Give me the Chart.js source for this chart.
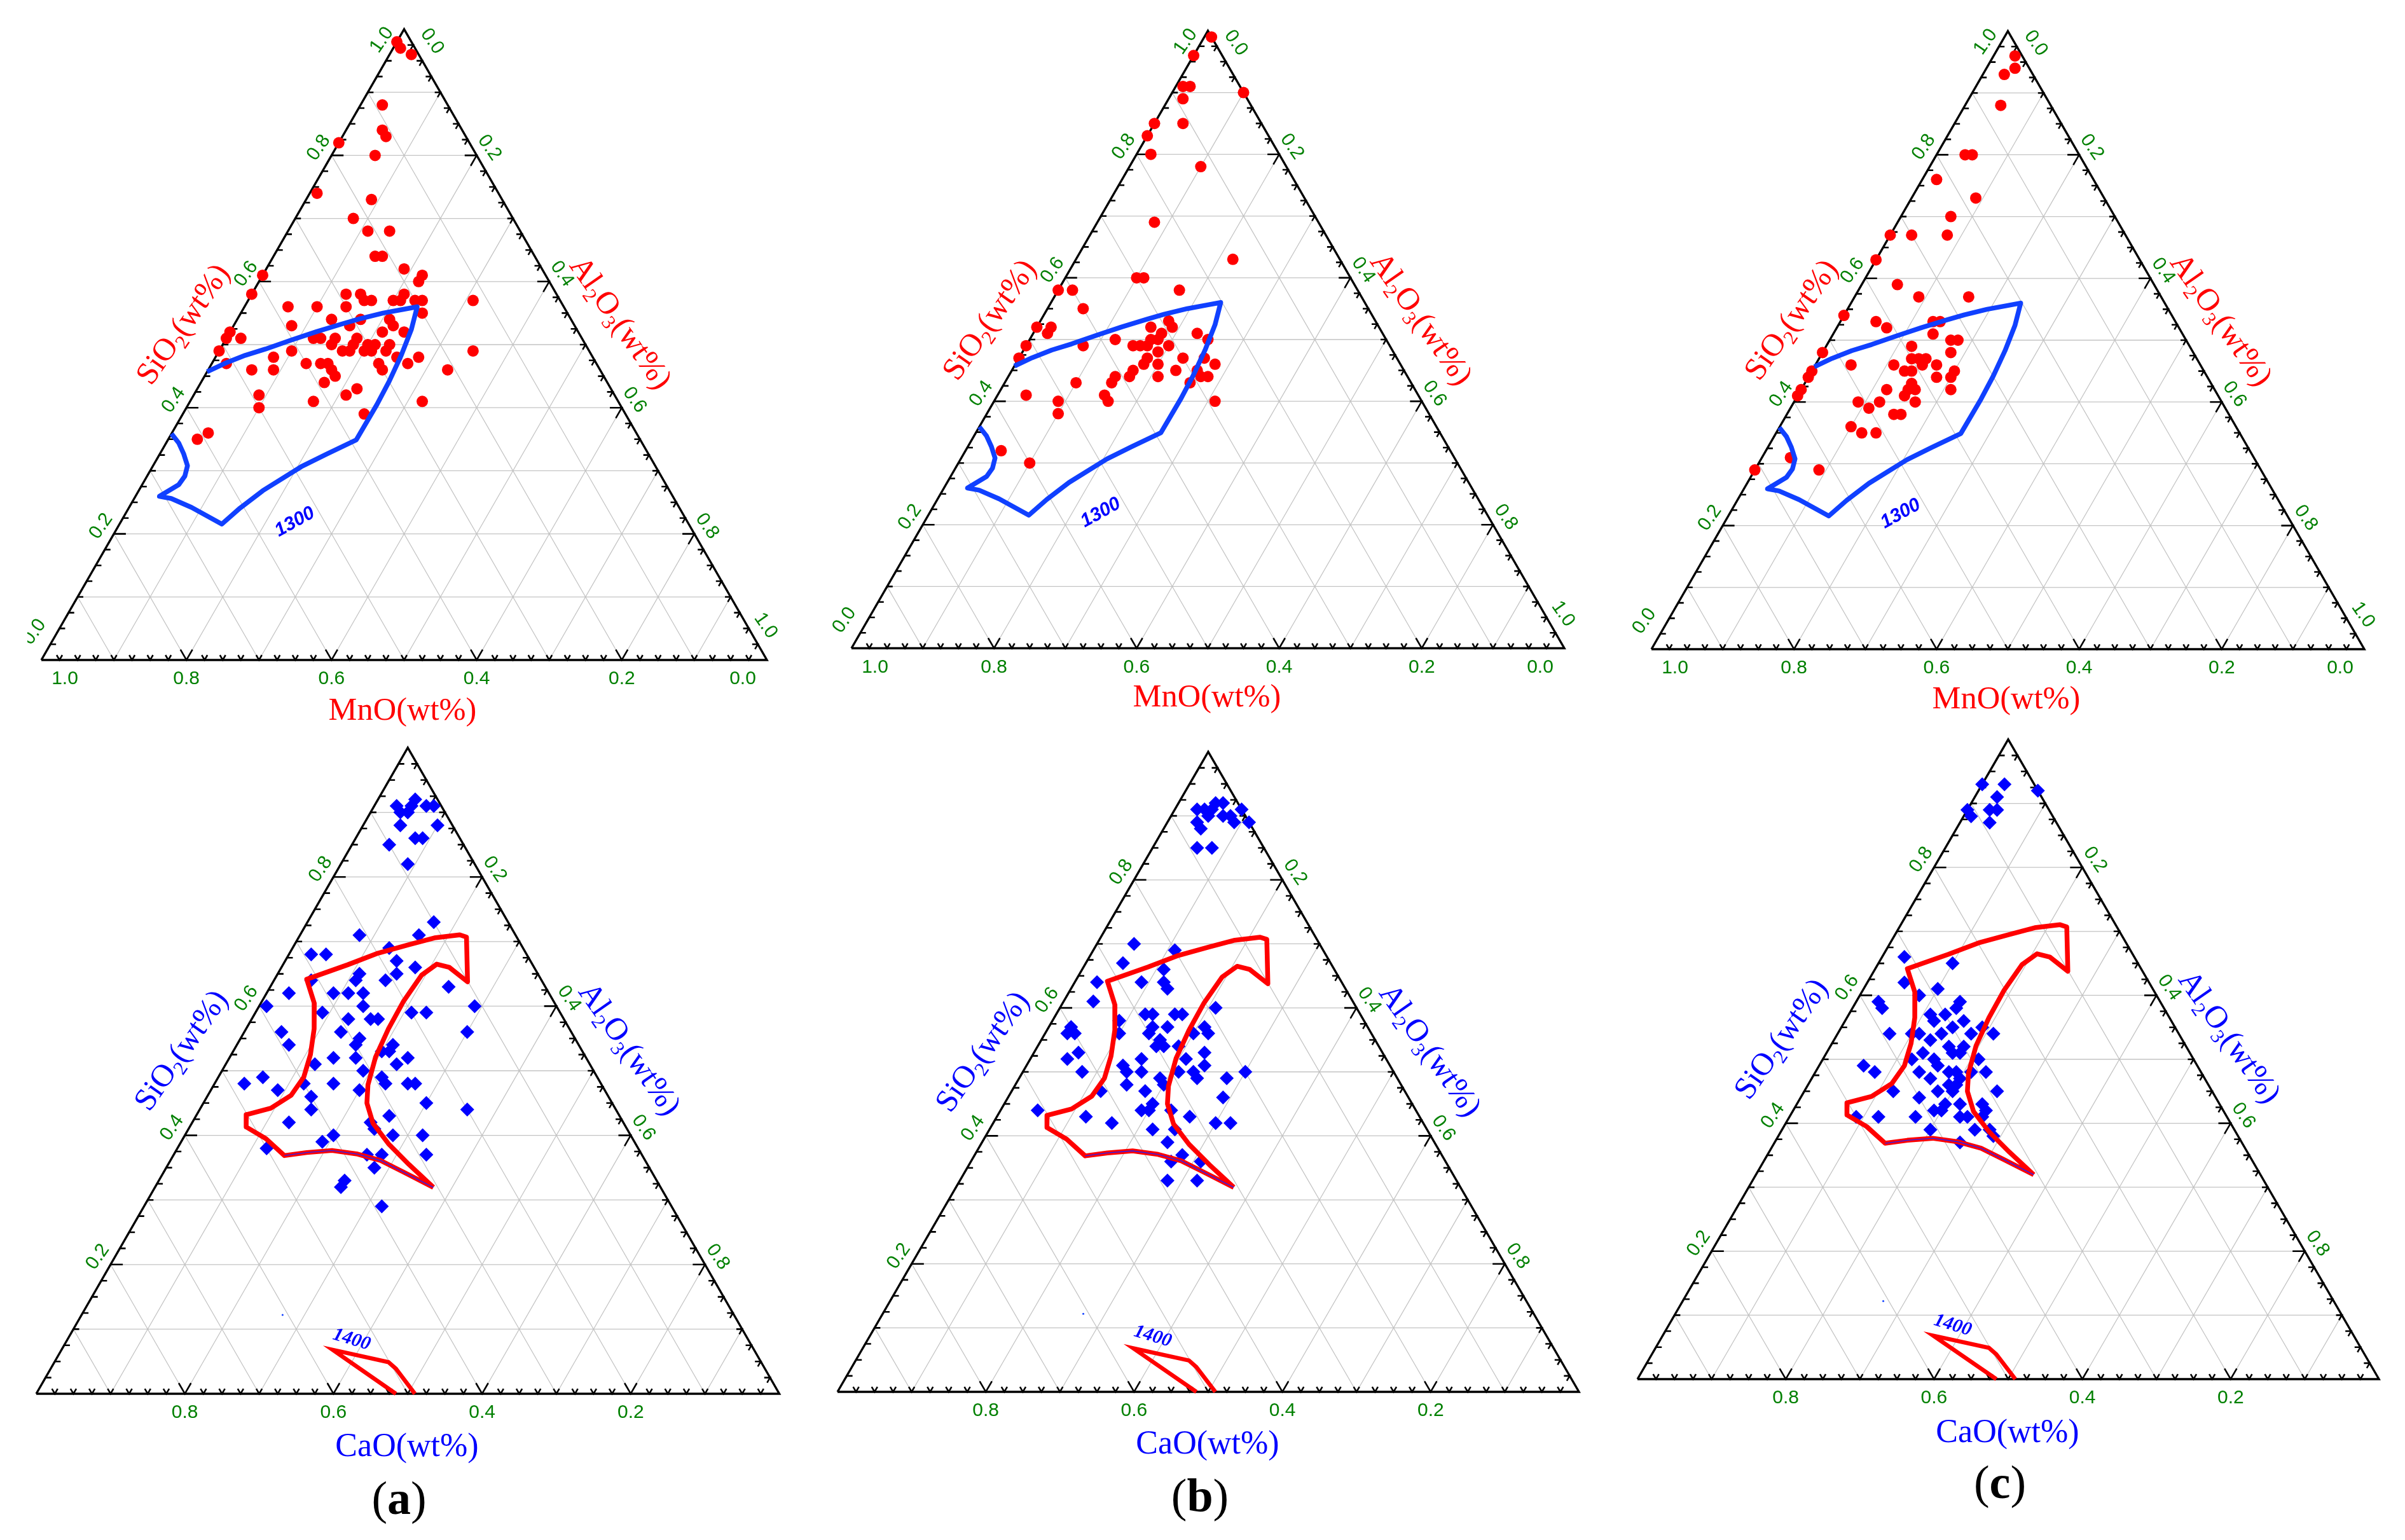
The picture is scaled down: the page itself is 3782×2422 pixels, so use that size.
<!DOCTYPE html>
<html><head><meta charset="utf-8">
<style>html,body{margin:0;padding:0;background:#fff;width:3782px;height:2422px;overflow:hidden}canvas{position:absolute}</style>
<script src="https://cdn.jsdelivr.net/npm/chart.js@4"></script>
</head><body>
<script>
// All samples are [SiO2, Al2O3] mass fractions; the third component is the remainder.
const sampleMnOa=[[.98,0],[.97,.01],[.96,.03],[.88,.03],[.84,.05],[.83,.06],[.82,0],[.80,.06],[.74,.01],[.73,.09],[.70,.08],[.68,.11],[.68,.14],[.64,.14],[.64,.15],[.62,.19],[.61,.22],[.60,.22],[.61,0],[.58,0],[.58,.13],[.58,.15],[.58,.21],[.56,.06],[.56,.10],[.56,.14],[.57,.16],[.57,.17],[.57,.20],[.57,.21],[.57,.23],[.57,.24],[.57,.31],[.55,.25],[.54,.17],[.54,.13],[.54,.21],[.53,.08],[.53,.16],[.53,.22],[.52,0],[.51,0],[.51,.02],[.52,.21],[.52,.24],[.51,.12],[.51,.13],[.51,.15],[.51,.18],[.50,.15],[.50,.18],[.50,.20],[.50,.21],[.50,.23],[.49,0],[.49,.10],[.49,.17],[.49,.18],[.49,.20],[.49,.21],[.49,.23],[.49,.35],[.48,.08],[.48,.25],[.48,.28],[.47,.02],[.47,.13],[.47,.15],[.47,.16],[.47,.23],[.47,.27],[.46,.06],[.46,.09],[.46,.17],[.46,.24],[.46,.33],[.45,.18],[.44,.17],[.43,.22],[.42,.09],[.42,.21],[.41,.17],[.41,.32],[.40,.10],[.39,.25],[.36,.05],[.35,.04]];
const sampleMnOb=[[.99,.01],[.96,0],[.91,.01],[.91,.02],[.90,.10],[.89,.02],[.85,0],[.85,.04],[.83,0],[.80,.02],[.78,.10],[.69,.08],[.63,.22],[.60,.10],[.60,.11],[.58,0],[.58,.02],[.58,.17],[.55,.05],[.52,0],[.52,.02],[.52,.16],[.52,.19],[.53,.18],[.51,.02],[.51,.23],[.51,.18],[.49,0],[.50,.12],[.50,.17],[.50,.18],[.50,.25],[.49,.08],[.49,.15],[.49,.16],[.49,.17],[.49,.20],[.48,.19],[.47,0],[.47,.18],[.47,.23],[.47,.26],[.46,.18],[.46,.20],[.46,.28],[.45,.17],[.45,.23],[.45,.26],[.44,.15],[.44,.17],[.44,.21],[.44,.27],[.44,.28],[.43,.15],[.43,.10],[.43,.26],[.41,.04],[.41,.15],[.40,.09],[.40,.16],[.40,.31],[.38,.10],[.32,.05],[.30,.10]];
const sampleMnOc=[[.96,.03],[.94,.04],[.93,.03],[.88,.05],[.80,.04],[.80,.05],[.76,.02],[.73,.09],[.70,.07],[.67,0],[.67,.03],[.67,.08],[.63,0],[.59,.05],[.57,.09],[.57,.16],[.54,0],[.53,.05],[.52,.07],[.53,.13],[.53,.14],[.51,.14],[.50,.17],[.50,.18],[.48,.18],[.48,0],[.49,.12],[.47,.13],[.47,.14],[.47,.15],[.46,.05],[.46,.11],[.46,.15],[.46,.17],[.45,.13],[.45,.14],[.45,.20],[.45,0],[.44,0],[.44,.18],[.44,.20],[.43,.15],[.42,0],[.42,.12],[.42,.15],[.42,.16],[.42,.21],[.41,0],[.41,.15],[.40,.09],[.40,.12],[.40,.17],[.39,.11],[.38,.15],[.38,.16],[.36,.10],[.35,.12],[.35,.14],[.31,.04],[.29,0],[.29,.09]];
const sampleCaOa=[[.91,.03],[.92,.05],[.91,.05],[.90,.05],[.90,.04],[.90,.05],[.91,.07],[.91,.08],[.88,.05],[.88,.10],[.86,.08],[.86,.09],[.85,.05],[.82,.09],[.73,.17],[.71,.16],[.71,.08],[.69,.13],[.68,.03],[.68,.05],[.67,.15],[.66,.18],[.65,.11],[.65,.16],[.64,.11],[.64,.15],[.64,.05],[.63,.24],[.62,.03],[.62,.09],[.62,.11],[.62,.13],[.60,.14],[.60,.01],[.60,.29],[.59,.09],[.59,.21],[.59,.23],[.58,.13],[.58,.16],[.58,.17],[.56,.05],[.56,.13],[.56,.30],[.55,.16],[.54,.16],[.54,.07],[.54,.21],[.53,.20],[.53,.21],[.52,.14],[.52,.17],[.52,.24],[.51,.12],[.51,.23],[.50,.19],[.49,.06],[.49,.22],[.48,.04],[.48,.12],[.48,.16],[.48,.23],[.48,.26],[.48,.27],[.47,.09],[.47,.20],[.46,.14],[.45,.30],[.44,.15],[.44,.36],[.43,.26],[.42,.13],[.42,.24],[.41,.25],[.40,.20],[.40,.28],[.40,.32],[.39,.19],[.38,.12],[.37,.26],[.37,.28],[.37,.34],[.35,.28],[.33,.25],[.32,.25],[.29,.32]];
const sampleCaOb=[[.91,.03],[.91,.04],[.92,.05],[.92,.06],[.91,.05],[.90,.05],[.91,.09],[.90,.07],[.90,.08],[.89,.09],[.89,.11],[.89,.04],[.88,.05],[.85,.06],[.85,.08],[.70,.05],[.69,.11],[.67,.05],[.66,.11],[.64,.03],[.64,.09],[.64,.12],[.63,.13],[.61,.04],[.60,.21],[.59,.12],[.59,.13],[.59,.16],[.59,.17],[.58,.09],[.57,.03],[.57,.14],[.57,.16],[.57,.21],[.56,.03],[.56,.04],[.56,.10],[.56,.14],[.56,.20],[.56,.22],[.55,.16],[.54,.16],[.54,.17],[.54,.19],[.53,.06],[.53,.23],[.52,.05],[.52,.15],[.52,.21],[.51,.13],[.51,.24],[.50,.08],[.50,.14],[.50,.16],[.50,.21],[.50,.23],[.50,.30],[.49,.19],[.49,.24],[.49,.28],[.48,.15],[.48,.20],[.47,.18],[.47,.12],[.46,.29],[.45,.20],[.44,.19],[.44,.20],[.44,.23],[.44,.05],[.43,.12],[.43,.26],[.42,.16],[.42,.30],[.42,.32],[.41,.22],[.41,.25],[.39,.25],[.37,.28],[.36,.27],[.36,.31],[.33,.28],[.33,.32]];
const sampleCaOc=[[.93,0],[.93,.03],[.92,.08],[.91,.03],[.89,0],[.89,.03],[.89,.04],[.88,.01],[.87,.04],[.66,.03],[.65,.10],[.62,.05],[.61,.10],[.60,.08],[.59,.03],[.59,.14],[.58,.14],[.58,.04],[.57,.11],[.57,.13],[.56,.12],[.56,.16],[.55,.15],[.55,.19],[.54,.07],[.54,.10],[.54,.11],[.54,.14],[.54,.18],[.54,.21],[.53,.13],[.52,.16],[.51,.13],[.51,.17],[.51,.18],[.52,.18],[.50,.12],[.50,.15],[.50,.21],[.49,.16],[.49,.06],[.48,.08],[.48,.14],[.48,.18],[.48,.19],[.48,.21],[.48,.23],[.47,.16],[.47,.20],[.46,.19],[.46,.20],[.45,.20],[.45,.18],[.45,.12],[.45,.26],[.44,.16],[.43,.20],[.43,.22],[.43,.25],[.42,.19],[.42,.20],[.42,.26],[.41,.09],[.41,.12],[.41,.17],[.41,.23],[.41,.24],[.41,.26],[.39,.20],[.39,.26],[.39,.28],[.38,.29],[.37,.25]];

// Isotherm outlines, [SiO2, Al2O3]
const isotherm1300=[[.457,0],[.4705,.018],[.483,.0395],[.493,.0625],[.507,.0905],[.5205,.119],[.533,.1485],[.541,.1685],[.55,.196],[.556,.221],[.56,.238],[.524,.248],[.483,.2545],[.442,.2585],[.405,.26],[.349,.2595],[.3266,.23],[.3065,.205],[.2685,.171],[.241,.1535],[.2155,.141],[.242,.086],[.256,.051],[.2595,.033],[.278,.0504],[.2916,.052],[.308,.0474],[.3266,.033],[.344,.0174],[.3587,0]];
const isotherm1400main=[[.3196,.3746],[.355,.324],[.387,.2805],[.4185,.244],[.45,.22],[.478,.2074],[.5214,.196],[.565,.1915],[.608,.1905],[.648,.1946],[.665,.2065],[.66,.226],[.6377,.2616],[.707,.2255],[.7104,.2148],[.7057,.183],[.695,.1535],[.682,.119],[.664,.087],[.6416,.0432],[.6044,.072],[.565,.0915],[.525,.1065],[.49,.115],[.462,.112],[.442,.0947],[.432,.0667],[.413,.076],[.395,.1115],[.3687,.1497],[.3734,.1773],[.3766,.2097],[.371,.247],[.361,.283],[.343,.323],[.3196,.3746]];
const isotherm1300arc=[[.3687,.1497],[.3734,.1773],[.3766,.2097],[.371,.247],[.361,.283],[.343,.323],[.3196,.3746]];
const isotherm1400low=[[0,.484],[.068,.365],[.049,.4495],[.0388,.4646],[0,.5096]];
const strayMark=[[.122,.2705]];

const topTicks=[0,.2,.4,.6,.8,1];
const midTicks=[.2,.4,.6,.8];
const gridLevels=[.1,.2,.3,.4,.5,.6,.7,.8,.9];
const GREEN='#008000',RED='#ff0000',BLUE='#0000ff',LINEBLUE='#1040ff';

const panels=[
 {box:[43,0,1227,1150],L:65,R:1206,B:1038,A:46,pts:sampleMnOa,kind:'top',t:[633,1117],s:[288,510],a:[976,508],lab:[463.7,821]},
 {box:[1270,0,1270,1150],L:1339,R:2460,B:1019.5,A:48.5,pts:sampleMnOb,kind:'top',t:[1898,1096],s:[1556,503],a:[2235,501.6],lab:[1731,806.4]},
 {box:[2540,0,1242,1150],L:2597,R:3718,B:1021,A:49,pts:sampleMnOc,kind:'top',t:[3155,1099],s:[2817,503],a:[3493,503],lab:[2989,808]},
 {box:[0,1150,1270,1272],L:57,R:1225.5,B:2192,A:1176,pts:sampleCaOa,kind:'bot',t:[640,2274],s:[285,1652],a:[990,1650],lab:[553,2107],cap:['a',627.6,2363]},
 {box:[1270,1150,1270,1272],L:1317,R:2483,B:2189,A:1182.5,pts:sampleCaOb,kind:'bot',t:[1899,2270.6],s:[1545,1654],a:[2249,1652],lab:[1812.7,2102],cap:['b',1887,2359]},
 {box:[2540,1150,1242,1272],L:2575,R:3741,B:2169,A:1163,pts:sampleCaOc,kind:'bot',t:[3157,2252],s:[2801,1634],a:[3506,1631],lab:[3070.6,2084.5],cap:['c',3145,2337.5]}
];

// ternary -> plotting plane
const T=(si,al)=>({x:al+si/2,y:si});
const toXY=list=>list.map(p=>T(p[0],p[1]));
const GAP={x:NaN,y:NaN};

function gridSegs(){
  const d=[];
  for(const v of gridLevels){
    d.push(T(v,0),T(v,1-v),GAP);      // SiO2 constant
    d.push(T(0,v),T(1-v,v),GAP);      // Al2O3 constant
    d.push(T(0,1-v),T(1-v,0),GAP);    // third component constant
  }
  return d;
}
function tickSegs(){
  const d=[],minor=.0078,major=.0165;
  for(let i=1;i<40;i++){
    const v=i*.025,l=(i%8===0)?major:minor;
    // left edge (SiO2)
    d.push(T(v,l),T(v,0),T(v-l,0),GAP);
    // right edge (Al2O3)
    d.push(T(1-v,v-l),T(1-v,v),T(1-v-l,v),GAP);
    // base
    d.push(T(l,v-l),T(0,v),T(l,v),GAP);
  }
  return d;
}
const frame=[T(0,0),T(1,0),T(0,1),T(0,0)];

function richText(ctx,x,y,deg,parts,size,color){
  ctx.save();
  ctx.translate(x,y);ctx.rotate(deg*Math.PI/180);
  ctx.fillStyle=color;ctx.textAlign='left';ctx.textBaseline='alphabetic';
  let w=0;
  for(const p of parts){ctx.font=(p[1]?size*.62:size)+'px "Liberation Serif"';w+=ctx.measureText(p[0]).width;}
  let cx=-w/2;
  for(const p of parts){
    ctx.font=(p[1]?size*.62:size)+'px "Liberation Serif"';
    ctx.fillText(p[0],cx,size*.3+(p[1]?size*.2:0));
    cx+=ctx.measureText(p[0]).width;
  }
  ctx.restore();
}
function sans(ctx,text,x,y,deg,size,color,font){
  ctx.save();ctx.translate(x,y);ctx.rotate(deg*Math.PI/180);
  ctx.font=font||(size+'px "Liberation Sans"');
  ctx.fillStyle=color;ctx.textAlign='center';ctx.textBaseline='middle';
  ctx.fillText(text,0,0);ctx.restore();
}

panels.forEach(p=>{
  const [bx,by,bw,bh]=p.box;
  const cv=document.createElement('canvas');
  cv.style.left=bx+'px';cv.style.top=by+'px';cv.width=bw;cv.height=bh;
  cv.style.width=bw+'px';cv.style.height=bh+'px';
  document.body.appendChild(cv);
  const isTop=p.kind==='top';
  const compColor=isTop?RED:BLUE, baseName=isTop?'MnO(wt%)':'CaO(wt%)';
  const sets=[
    {data:gridSegs(),showLine:true,borderColor:'#c4c4c4',borderWidth:1.3,pointRadius:0,order:6,clip:false},
    {data:tickSegs(),showLine:true,borderColor:'#000',borderWidth:2.6,pointRadius:0,order:5,clip:false},
    {data:frame,showLine:true,borderColor:'#000',borderWidth:3.4,pointRadius:0,order:4,clip:false},
    {data:toXY(p.pts),showLine:false,pointStyle:isTop?'circle':'rectRot',pointRadius:isTop?9:11,backgroundColor:isTop?RED:BLUE,borderWidth:0,order:3,clip:false}
  ];
  if(isTop){
    sets.push({data:toXY(isotherm1300),showLine:true,borderColor:LINEBLUE,borderWidth:7.5,pointRadius:0,order:1,clip:false,borderJoinStyle:'round'});
  }else{
    sets.push({data:toXY(isotherm1400main),showLine:true,borderColor:RED,borderWidth:7.5,pointRadius:0,order:2,clip:false,borderJoinStyle:'round'});
    sets.push({data:toXY(isotherm1400low),showLine:true,borderColor:RED,borderWidth:6.5,pointRadius:0,order:2,clip:false});
    sets.push({data:toXY(isotherm1300arc),showLine:true,borderColor:'#2020ff',borderWidth:1.4,pointRadius:0,order:1,clip:false});
    sets.push({data:toXY(strayMark),showLine:false,pointStyle:'circle',pointRadius:1.5,backgroundColor:LINEBLUE,borderWidth:0,order:1,clip:false});
  }
  const textPlugin={id:'texts',afterDatasetsDraw(chart){
    const ctx=chart.ctx,X=chart.scales.x,Y=chart.scales.y;
    const px=(si,al)=>{const q=T(si,al);return [X.getPixelForValue(q.x),Y.getPixelForValue(q.y)];};
    const ticks=isTop?topTicks:midTicks;
    for(const v of ticks){
      // left SiO2 labels
      let [a,b]=px(v,0),ox=-20,oy=-12;
      if(v===1){ox=-35;oy=17;} if(v===0){ox=-11;oy=-44;}
      sans(ctx,v.toFixed(1),a+ox,b+oy,-55,30,GREEN);
      // right Al2O3 labels
      [a,b]=px(1-v,v);ox=20;oy=-12;
      if(v===0){ox=44;oy=19;} if(v===1){ox=-2;oy=-54;}
      sans(ctx,v.toFixed(1),a+ox,b+oy,55,30,GREEN);
      // base labels
      [a,b]=px(0,1-v);ox=0;
      if(v===1)ox=37; if(v===0)ox=-38;
      sans(ctx,v.toFixed(1),a+ox,b+30,0,30,GREEN);
    }
    const off=(q)=>[q[0]-bx,q[1]-by];
    let q=off(p.t);
    richText(ctx,q[0],q[1],0,[[baseName,0]],isTop?50.5:52,compColor);
    q=off(p.s);
    richText(ctx,q[0],q[1],-55,[['SiO',0],['2',1],['(wt%)',0]],50,compColor);
    q=off(p.a);
    richText(ctx,q[0],q[1],55,[['Al',0],['2',1],['O',0],['3',1],['(wt%)',0]],50,compColor);
    q=off(p.lab);
    if(isTop) sans(ctx,'1300',q[0],q[1],-29,30,BLUE,'italic bold 30px "Liberation Sans"');
    else sans(ctx,'1400',q[0],q[1],17,30,BLUE,'italic bold 30px "Liberation Serif"');
    if(p.cap){
      q=off([p.cap[1],p.cap[2]]);
      const F=74;
      ctx.save();ctx.fillStyle='#000';ctx.textBaseline='alphabetic';ctx.textAlign='left';
      ctx.font=F+'px "Liberation Serif"';const pw=ctx.measureText('(').width;
      ctx.font='bold '+F+'px "Liberation Serif"';const lw=ctx.measureText(p.cap[0]).width;
      let cx=q[0]-(2*pw+lw)/2;const by2=q[1]+18;
      ctx.font=F+'px "Liberation Serif"';ctx.fillText('(',cx,by2);cx+=pw;
      ctx.font='bold '+F+'px "Liberation Serif"';ctx.fillText(p.cap[0],cx,by2);cx+=lw;
      ctx.font=F+'px "Liberation Serif"';ctx.fillText(')',cx,by2);
      ctx.restore();
    }
  }};
  new Chart(cv.getContext('2d'),{
    type:'scatter',
    data:{datasets:sets},
    options:{
      responsive:false,animation:false,devicePixelRatio:1,
      layout:{padding:{left:p.L-bx,right:bx+bw-p.R,top:p.A-by,bottom:by+bh-p.B}},
      plugins:{legend:{display:false},tooltip:{enabled:false},title:{display:false}},
      scales:{x:{type:'linear',min:0,max:1,display:false},y:{type:'linear',min:0,max:1,display:false}}
    },
    plugins:[textPlugin]
  });
});
</script>
</body></html>
